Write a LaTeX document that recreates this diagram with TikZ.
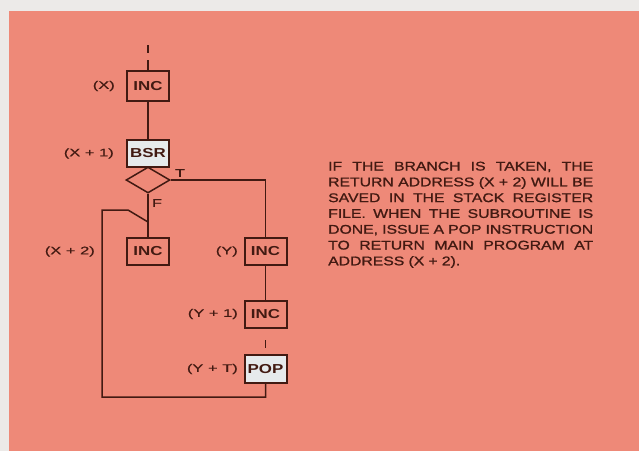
\documentclass[tikz,border=0pt]{standalone}
\usepackage{fontspec}
\setmainfont{Liberation Sans}
\newfontfamily\descfont{Liberation Sans}[FakeStretch=1.25,FakeBold=1.2]
\newfontfamily\labfont{Liberation Sans}[FakeStretch=1.5,FakeBold=0.6]
\newfontfamily\boxfont{Liberation Sans Bold}[FakeStretch=1.3]
\usetikzlibrary{shapes.geometric}
\definecolor{outercol}{RGB}{236,234,232}
\definecolor{bgcol}{RGB}{238,137,120}
\definecolor{inkcol}{RGB}{66,26,18}
\definecolor{lightbox}{RGB}{230,234,236}
\newcommand{\jline}[1]{\hbox to 265pt{\spaceskip=0.3em plus 1fil minus 0.12em\relax #1}}
\newcommand{\jlast}[1]{\hbox to 265pt{#1\hfil}}
\tikzset{
  conn/.style={draw=inkcol, line width=1.5pt},
  stepbox/.style={draw=inkcol, line width=2pt, rectangle, inner sep=0pt,
    minimum width=42pt, minimum height=27pt, text=inkcol,
    font=\boxfont\fontsize{13}{14}\selectfont},
  litbox/.style={stepbox, fill=lightbox},
  addr/.style={anchor=east, inner sep=0pt, text=inkcol,
    font=\labfont\fontsize{11}{13}\selectfont},
  decbox/.style={diamond, draw=inkcol, line width=1.5pt, inner sep=0pt,
    minimum width=44pt, minimum height=26pt}
}
\begin{document}
\begin{tikzpicture}[x=1pt,y=-1pt]
\useasboundingbox (0,0) rectangle (639,451);
\fill[outercol] (0,0) rectangle (639,451);
\fill[bgcol] (9,11) rectangle (639,451);

% left column
\node[stepbox, minimum height=30pt] (incx) at (148,86) {INC};
\node[litbox] (bsr) at (148,153.5) {BSR};
\node[decbox] (dec) at (148,180) {};
\node[stepbox] (incl) at (148,251.5) {INC};

% right column
\node[stepbox] (yinc) at (265.5,251.5) {INC};
\node[stepbox] (yinc1) at (265.5,314) {INC};
\node[litbox, minimum height=28pt] (pop) at (265.5,369) {POP};

% address labels
\node[addr] (lx) at (115,86) {(X)};
\node[addr] (lx1) at (114,153.5) {(X + 1)};
\node[addr] (lx2) at (95,251.5) {(X + 2)};
\node[addr] (ly) at (238,251.5) {(Y)};
\node[addr] (ly1) at (238,314) {(Y + 1)};
\node[addr] (lyt) at (238,369) {(Y + T)};

% branch labels
\node[text=inkcol, font=\labfont\fontsize{11}{13}\selectfont, inner sep=0pt] (tl) at (180,173) {T};
\node[text=inkcol, font=\labfont\fontsize{11}{13}\selectfont, inner sep=0pt] (fl) at (157,203) {F};

% connectors
\coordinate (t1) at (148,45);
\coordinate (t2) at (148,53);
\coordinate (t3) at (148,60);
\draw[conn] (t1) -- (t2);
\draw[conn] (t3) -- (incx.north);
\draw[conn] (incx) -- (bsr);
\draw[conn] (dec.east) -- (dec.east -| yinc.north) -- (yinc.north);
\draw[conn] (dec.south) -- (incl.north);
\draw[conn] (yinc) -- (yinc1);
\coordinate (p1) at (265.5,340);
\coordinate (p2) at (265.5,348);
\draw[conn] (p1) -- (p2);
\coordinate (lb) at (102,397);
\coordinate (lt) at (102,210);
\coordinate (lk) at (128,210);
\coordinate (lm) at (148,222);
\draw[conn] (pop.south) -- (pop.south |- lb) -- (lb) -- (lt) -- (lk) -- (lm);

% description
\node[anchor=north west, inner sep=0pt, text=inkcol, text width=265pt, align=left,
  font=\descfont\fontsize{12.6}{15.8}\selectfont] (note) at (328,161.5)
{\jline{IF THE BRANCH IS TAKEN, THE}
\jline{RETURN ADDRESS (X + 2) WILL BE}
\jline{SAVED IN THE STACK REGISTER}
\jline{FILE. WHEN THE SUBROUTINE IS}
\jline{DONE, ISSUE A POP INSTRUCTION}
\jline{TO RETURN MAIN PROGRAM AT}
\jlast{ADDRESS (X + 2).}};
\end{tikzpicture}
\end{document}
